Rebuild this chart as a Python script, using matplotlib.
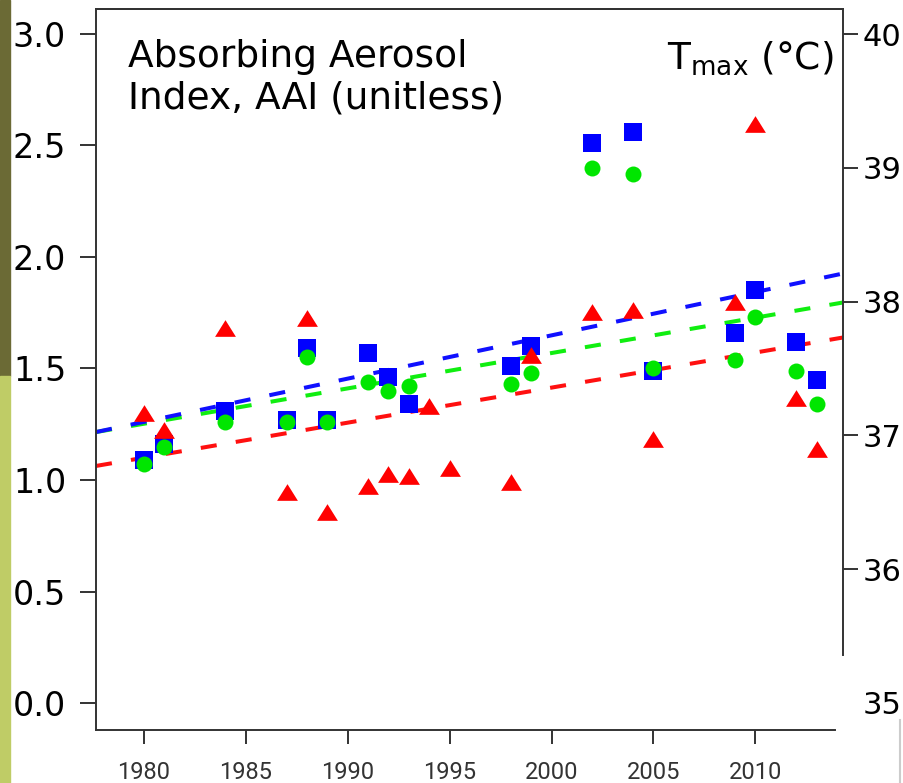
import numpy as np
import matplotlib
matplotlib.use('Agg')
from matplotlib import pyplot as plt
from matplotlib.patches import Rectangle
from matplotlib.lines import Line2D

# AAI values (left axis)
years_aai = [1980, 1981, 1984, 1987, 1988, 1989, 1991, 1992, 1993, 1998, 1999,
             2002, 2004, 2005, 2009, 2010, 2012, 2013]
aai_blue = [1.09, 1.16, 1.31, 1.27, 1.59, 1.27, 1.57, 1.46, 1.34, 1.51, 1.60,
            2.51, 2.56, 1.49, 1.66, 1.85, 1.62, 1.45]
aai_green = [1.07, 1.15, 1.26, 1.26, 1.55, 1.26, 1.44, 1.40, 1.42, 1.43, 1.48,
             2.40, 2.37, 1.50, 1.54, 1.73, 1.49, 1.34]

# Tmax values (right axis)
years_t = [1980, 1981, 1984, 1987, 1988, 1989, 1991, 1992, 1993, 1994, 1995,
           1998, 1999, 2002, 2004, 2005, 2009, 2010, 2012, 2013]
tmax = [37.17, 37.04, 37.80, 36.58, 37.88, 36.43, 36.62, 36.71, 36.70, 37.22, 36.76,
        36.65, 37.60, 37.92, 37.94, 36.97, 38.00, 39.33, 37.28, 36.90]

# trend lines (value at 1977.65 and 2014.3, AAI units)
trend_years = [1977.65, 2014.3]
trend_blue = [1.215, 1.926]
trend_green = [1.215, 1.796]
trend_red = [1.063, 1.639]

xticks = [1980, 1985, 1990, 1995, 2000, 2005, 2010]

fig = plt.figure(figsize=(9.04, 7.83), dpi=100)
fig.patches.append(Rectangle((0, 0.52), 10 / 904, 0.48, transform=fig.transFigure,
                             color='#6b6a35', zorder=0))
fig.patches.append(Rectangle((0, 0), 10 / 904, 0.52, transform=fig.transFigure,
                             color='#bfcc66', zorder=0))
fig.lines.append(Line2D([900 / 904, 900 / 904], [0, 63 / 783], transform=fig.transFigure,
                        color='#cccccc', lw=1.5))

ax = fig.add_axes([96 / 904, 53 / 783, 747 / 904, 721 / 783])
ax2 = ax.twinx()

dash = (4.0, 4.8)
ax.plot(trend_years, trend_red, color='#ff1010', lw=2.9, linestyle=(0, dash), zorder=2)
ax.plot(trend_years, trend_green, color='#10ee10', lw=2.9, linestyle=(0, dash), zorder=2)
ax.plot(trend_years, trend_blue, color='#1010ff', lw=2.9, linestyle=(0, dash), zorder=2)

ax.plot(years_aai, aai_blue, 's', color='#0000ff', ms=12.6, mew=0, zorder=3)
ax.plot(years_aai, aai_green, 'o', color='#00e600', ms=11.5, mew=0, zorder=4)
tri = [(-1, -0.8), (1, -0.8), (0, 0.8)]
ax2.plot(years_t, tmax, marker=tri, linestyle='none', color='#ff0000', ms=15, mew=0)

ax.set_xlim(1977.65, 2014.3)
ax.set_ylim(-0.121, 3.112)
ax2.set_ylim(34.798, 40.187)

for a in (ax, ax2):
    for s in a.spines.values():
        s.set_linewidth(1.4)
        s.set_color('#333333')
ax.spines['right'].set_visible(False)
ax2.spines['left'].set_visible(False)
ax2.spines['bottom'].set_visible(False)
ax2.spines['right'].set_bounds(35.36, 40.187)
ax.spines['bottom'].set_bounds(1977.65, 2013.9)

ax.set_xticks(xticks)
ax.set_xticklabels([str(x) for x in xticks], fontfamily='Roboto', color='#333333')
ax.tick_params(axis='x', length=10, width=1.4, color='#333333', labelsize=17, pad=12)
ax.set_yticks([0, 0.5, 1.0, 1.5, 2.0, 2.5, 3.0])
ax.set_yticklabels(['0.0', '0.5', '1.0', '1.5', '2.0', '2.5', '3.0'])
ax.tick_params(axis='y', length=11.5, width=1.4, color='#333333', labelsize=24, pad=10)

ax2.set_yticks([35, 36, 37, 38, 39, 40])
ax2.tick_params(axis='y', length=11, width=1.4, color='#333333', labelsize=22, pad=3)
ax2.yaxis.get_major_ticks()[0].tick2line.set_visible(False)

ax.text(0.043, 0.958, 'Absorbing Aerosol\nIndex, AAI (unitless)', transform=ax.transAxes,
        fontsize=27, va='top', ha='left', linespacing=1.2)
ax.text(0.988, 0.958, r'T$_{\mathregular{max}}$ (°C)', transform=ax.transAxes,
        fontsize=27, va='top', ha='right')

plt.savefig('out.png', dpi=100)
